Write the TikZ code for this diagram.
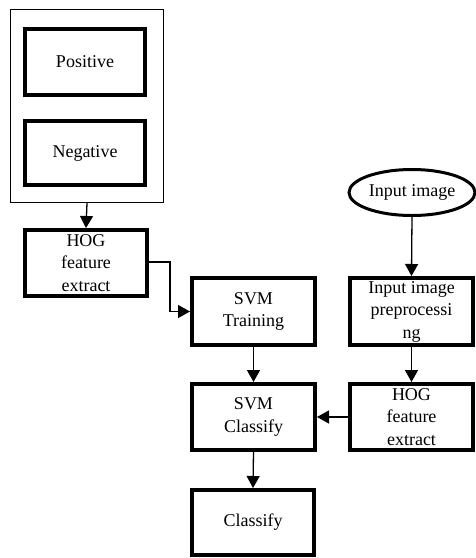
\documentclass[tikz,border=0pt]{standalone}
\usepackage{fontspec}
\setmainfont{Liberation Serif}
\usetikzlibrary{arrows.meta,shapes.geometric}
\begin{document}
\begin{tikzpicture}[x=1pt,y=-1pt,
  every node/.style={font=\fontsize{18}{22.5}\selectfont, align=center, inner sep=0pt},
  box/.style={draw, line width=4pt, rectangle, minimum width=122pt, minimum height=66pt},
  conn/.style={line width=1.3pt, -{Triangle[length=12pt,width=13pt]}},
  frame/.style={draw, line width=1.2pt, rectangle}
]
\useasboundingbox (0,0) rectangle (476,558);
\node[frame, minimum width=153pt, minimum height=193pt] (frame) at (87,106) {};
\node[box, minimum width=120pt] (pos) at (85,62) {Positive};
\node[box, minimum width=120pt, minimum height=64pt] (neg) at (85,153) {Negative};
\node[box] (hogL) at (86,263) {HOG\\feature\\extract};
\node[box, minimum width=123pt, minimum height=67pt] (train) at (253.5,311.5) {SVM\\Training};
\node[box, minimum width=123pt, minimum height=67pt] (prep) at (411.5,311.5) {Input image\\preprocessi\\ng};
\node[draw, ellipse, line width=3pt, minimum width=126pt, minimum height=46pt] (input) at (412,192.5) {Input image};
\node[box, minimum width=123pt] (cls) at (253.5,417) {SVM\\Classify};
\node[box, minimum width=123pt] (hogR) at (411.5,417) {HOG\\feature\\extract};
\node[box, minimum width=122pt, minimum height=65pt] (final) at (253,522.5) {Classify};
\coordinate (bend) at (170,262);
\draw[conn] (frame.south) -- (hogL.north);
\draw[conn] (hogL.east |- bend) -- (bend) |- (train.west);
\draw[conn] (input.south) -- (prep.north);
\draw[conn] (prep.south) -- (hogR.north);
\draw[conn] (train.south) -- (cls.north);
\draw[conn] (hogR.west) -- (cls.east);
\draw[conn] (cls.south) -- (final.north);
\end{tikzpicture}
\end{document}
